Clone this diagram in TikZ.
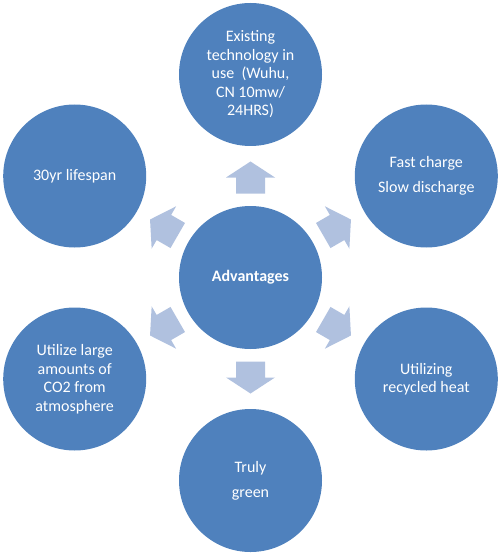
\documentclass[tikz,border=0pt]{standalone}
\usepackage{fontspec}
\setmainfont{Carlito}
\definecolor{circfill}{HTML}{4F81BD}
\definecolor{arrfill}{HTML}{B0C1DF}
\begin{document}
\begin{tikzpicture}[x=1pt,y=-1pt,
  bubble/.style={circle,fill=circfill,minimum size=143pt,inner sep=0pt,text=white,align=center,font=\fontsize{16}{18.5}\selectfont},
  arrowshape/.style={fill=arrfill}]
\useasboundingbox (0,0) rectangle (501,556);
\node[bubble] (c) at (250.5,277.5) {\textbf{Advantages}};
\node[bubble] (t) at (250.5,74.5) {Existing\\technology in\\use\ \ (Wuhu,\\CN 10mw/\\24HRS)};
\node[bubble] (tr) at (426.3,176) {Fast charge\\[6.5pt]Slow discharge};
\node[bubble] (br) at (426.3,379) {Utilizing\\recycled heat};
\node[bubble] (b) at (250.5,480.5) {Truly\\[6.5pt]green};
\node[bubble] (bl) at (74.7,379) {Utilize large\\amounts of\\CO2 from\\atmosphere};
\node[bubble] (tl) at (74.7,176) {30yr lifespan};
\foreach \a in {90,30,-30,-90,210,150}{
  \fill[arrowshape,shift={(c.center)},rotate=\a]
    (84,-14.5) -- (100,-14.5) -- (100,-24.5) -- (116,0) -- (100,24.5) -- (100,14.5) -- (84,14.5) -- cycle;
}
\end{tikzpicture}
\end{document}
